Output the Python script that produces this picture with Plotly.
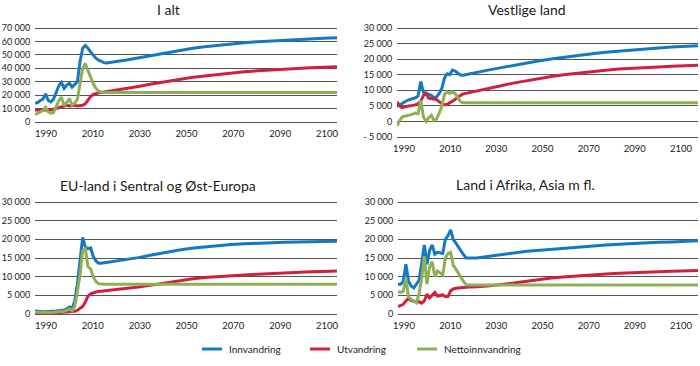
import plotly.graph_objects as go

# ---------------- data ----------------
years = list(range(1986, 2017)) + list(range(2020, 2101, 5))

# I alt
alt_inn = [14000, 14500, 16000, 17000, 21000, 16000, 15000, 17000, 22000, 27000,
           29500, 25000, 27500, 29000, 26000, 28000, 30000, 45000, 55000, 57000,
           55000, 52000, 49500, 47500, 46000, 45000, 44200, 44000, 44200, 44500,
           44800,
           46000, 47800, 49800, 51700, 53300, 54800, 56100, 57200, 58200, 59000,
           59800, 60400, 61000, 61500, 62000, 62400, 62800]
alt_ut = [9000, 8800, 8700, 9000, 9200, 9000, 9000, 9500, 10000, 10500,
          11500, 12000, 12500, 12000, 12500, 12500, 12000, 12000, 12500, 13500,
          16500, 19000, 20500, 21200, 21700, 22000, 22300, 22600, 22800, 23000,
          23200,
          24500, 26500, 28300, 30000, 31600, 33100, 34300, 35500, 36500, 37400,
          38100, 38800, 39400, 39900, 40400, 40800, 41200]
alt_netto = [5500, 6500, 8000, 8500, 11000, 7500, 6500, 7000, 11500, 16000,
             18500, 12000, 14500, 17500, 12500, 14000, 17000, 28000, 40000, 43500,
             38500, 33000, 28500, 25000, 23000, 22200, 22000, 22000, 22000, 22000,
             22000,
             22000, 22000, 22000, 22000, 22000, 22000, 22000, 22000, 22000, 22000,
             22000, 22000, 22000, 22000, 22000, 22000, 22000]

# Vestlige land
vest_inn = [4800, 5300, 5900, 6300, 6800, 7100, 7400, 7600, 8200, 12800,
            9300, 9000, 8700, 8400, 7600, 7900, 9000, 10700, 14000, 15300,
            15000, 16500, 16200, 15500, 14900, 14800, 15000, 15200, 15300, 15500,
            15700,
            16400, 17200, 18000, 18800, 19500, 20100, 20700, 21200, 21700, 22200,
            22600, 23000, 23300, 23600, 23900, 24100, 24300]
vest_ut = [6300, 5000, 4400, 4700, 4900, 5000, 5100, 5300, 5700, 6500,
           8300, 9000, 7500, 7400, 7300, 7000, 6300, 5800, 5300, 5500,
           6000, 6500, 7000, 7800, 8400, 8800, 9000, 9200, 9400, 9600,
           9800,
           10500, 11400, 12300, 13100, 13800, 14500, 15100, 15600, 16000, 16400,
           16800, 17100, 17300, 17500, 17700, 17850, 18000]
vest_netto = [-1500, 300, 1500, 1600, 1900, 2100, 2300, 2700, 2500, 6800,
              1500, 0, 1200, 2000, 300, 800, 2700, 5000, 8700, 9500,
              9000, 9500, 9000, 7500, 6400, 6000, 6000, 6000, 6000, 6000,
              6000,
              6000, 6000, 6000, 6000, 6000, 6000, 6000, 6000, 6000, 6000,
              6000, 6000, 6000, 6000, 6000, 6000, 6000]

# EU-land i Sentral og Øst-Europa
eu_inn = [800, 700, 650, 600, 600, 600, 650, 700, 800, 900,
          1000, 1100, 1400, 1900, 1500, 3500, 8000, 15000, 20500, 18000,
          17500, 17700, 15400, 14200, 13600, 13600, 13700, 13800, 13900, 14000,
          14100,
          14500, 15100, 15800, 16500, 17100, 17600, 18000, 18300, 18600, 18800,
          19000, 19100, 19200, 19300, 19400, 19450, 19500]
eu_ut = [300, 250, 200, 200, 200, 200, 200, 250, 250, 300,
         300, 350, 400, 450, 550, 700, 1000, 1400, 2000, 3200,
         4800, 5400, 5700, 5900, 6000, 6100, 6200, 6250, 6300, 6400,
         6450,
         6800, 7200, 7800, 8400, 8900, 9400, 9800, 9950, 10200, 10450,
         10650, 10850, 11000, 11150, 11300, 11400, 11500]
eu_netto = [500, 450, 400, 400, 400, 400, 400, 450, 500, 550,
            650, 750, 1000, 1400, 900, 2000, 6000, 10500, 17000, 17500,
            12700, 12000, 10000, 8700, 8100, 8000, 8000, 8000, 8000, 8000,
            8000,
            8000, 8000, 8000, 8000, 8000, 8000, 8000, 8000, 8000, 8000,
            8000, 8000, 8000, 8000, 8000, 8000, 8000]

# Land i Afrika, Asia m fl.
afr_inn = [8000, 8000, 8700, 13300, 8800, 7500, 7000, 8000, 9000, 13500,
           18500, 13300, 17000, 18500, 16000, 16500, 16300, 16200, 20000, 21000,
           22500, 20000, 19000, 17800, 16800, 15800, 15000, 15000, 15000, 15000,
           15000,
           15400, 15900, 16400, 16800, 17100, 17400, 17700, 18000, 18200, 18500,
           18700, 18900, 19000, 19200, 19300, 19500, 19600]
afr_ut = [2000, 2200, 2600, 3500, 4200, 3600, 3300, 3200, 3300, 2900,
          3500, 5300, 4300, 5000, 5800, 4800, 5000, 5100, 4700, 4700,
          6200, 6700, 6900, 7000, 7100, 7100, 7200, 7200, 7200, 7300,
          7300,
          7500, 7800, 8300, 8800, 9300, 9700, 10000, 10300, 10500, 10700,
          10900, 11100, 11200, 11350, 11450, 11550, 11650]
afr_netto = [6000, 5800, 6100, 9500, 4600, 3900, 3500, 3000, 5500, 9500,
             15500, 8000, 12500, 14000, 10000, 11500, 11000, 10500, 15000, 16200,
             16500, 13000, 12000, 10800, 9600, 8600, 7800, 7800, 7800, 7800,
             7800,
             7800, 7800, 7800, 7800, 7800, 7800, 7800, 7800, 7800, 7800,
             7800, 7800, 7800, 7800, 7800, 7800, 7800]

panel_titles = ["I alt", "Vestlige land", "EU-land i Sentral og Øst-Europa",
                "Land i Afrika, Asia m fl."]
series_names = ["Innvandring", "Utvandring", "Nettoinnvandring"]
x_tick_labels = ["1990", "2010", "2030", "2050", "2070", "2090", "2100"]
y_ticks_alt = [0, 10000, 20000, 30000, 40000, 50000, 60000, 70000]
y_ticks_vest = [-5000, 0, 5000, 10000, 15000, 20000, 25000, 30000]
y_ticks_other = [0, 5000, 10000, 15000, 20000, 25000, 30000]

# ---------------- styling / layout ----------------
W, H = 700, 366
COLORS = ["#1479c4", "#d0203e", "#8fb052"]
GRID = "#555555"
TXT = "#1a1a1a"
FONT = "Lato"


def fmt(v):
    s = f"{abs(v):,}".replace(",", " ")
    return ("- " + s) if v < 0 else s


# pixel boxes: (left, right, top_px_of_max, bottom_px_of_min), label centres first/last
panels = [
    dict(data=[alt_inn, alt_ut, alt_netto], yt=y_ticks_alt, box=(35, 337, 28, 122),
         lab=(46, 327), title_xy=(168, 9)),
    dict(data=[vest_inn, vest_ut, vest_netto], yt=y_ticks_vest, box=(397, 698, 28, 137),
         lab=(404, 681), title_xy=(527, 9)),
    dict(data=[eu_inn, eu_ut, eu_netto], yt=y_ticks_other, box=(35, 337, 202, 314),
         lab=(46, 327), title_xy=(158, 185)),
    dict(data=[afr_inn, afr_ut, afr_netto], yt=y_ticks_other, box=(398, 698, 202, 314),
         lab=(404, 681), title_xy=(525, 184)),
]

fig = go.Figure()
layout = dict(
    width=W, height=H, margin=dict(l=0, r=0, t=0, b=0, autoexpand=False),
    paper_bgcolor="white", plot_bgcolor="white",
    font=dict(family=FONT, size=10, color=TXT),
    showlegend=False,
    annotations=[], shapes=[],
)

X0, X1 = years[0], years[-1]
n_lab = len(x_tick_labels)

for i, p in enumerate(panels):
    k = "" if i == 0 else str(i + 1)
    left, right, top, bot = p["box"]
    ymin, ymax = p["yt"][0], p["yt"][-1]
    pad_px = 2
    per_px = (ymax - ymin) / (bot - top)
    pad_v = pad_px * per_px
    ydom = [1 - (bot + pad_px) / H, 1 - (top - pad_px) / H]
    xdom = [left / W, right / W]
    # tick labels spread evenly along the axis, as in the original figure
    span = X1 - X0
    la, lb = p["lab"]
    first = X0 + (la - left) / (right - left) * span
    last = X0 + (lb - left) / (right - left) * span
    tv = [first + j * (last - first) / (n_lab - 1) for j in range(n_lab)]

    layout["xaxis" + k] = dict(
        domain=xdom, anchor="y" + k, range=[X0, X1], showgrid=False,
        zeroline=False, showline=False, tickvals=tv, ticktext=x_tick_labels,
        ticks="outside", ticklen=1, tickcolor="rgba(0,0,0,0)",
        tickfont=dict(size=9.5, color=TXT), fixedrange=True)
    layout["yaxis" + k] = dict(
        domain=ydom, anchor="x" + k, range=[ymin - pad_v, ymax + pad_v],
        tickvals=p["yt"], ticktext=[fmt(v) for v in p["yt"]],
        showgrid=True, gridcolor=GRID, gridwidth=1, zeroline=False,
        showline=False, ticks="outside", ticklen=2, tickcolor="rgba(0,0,0,0)",
        tickfont=dict(size=9, color=TXT), fixedrange=True)

    for s, (vals, name, col) in enumerate(zip(p["data"], series_names, COLORS)):
        fig.add_trace(go.Scatter(
            x=years, y=vals, mode="lines", name=name,
            line=dict(color=col, width=3),
            xaxis="x" + k, yaxis="y" + k, showlegend=False, hoverinfo="skip"))

    tx, ty = p["title_xy"]
    layout["annotations"].append(dict(
        text=panel_titles[i], x=tx / W, y=1 - ty / H, xref="paper", yref="paper",
        xanchor="center", yanchor="middle", showarrow=False,
        font=dict(size=14, color=TXT, family=FONT)))

# legend drawn as line samples + text
LEG_Y = 349
leg_x = [202, 310, 417]
for name, col, lx in zip(series_names, COLORS, leg_x):
    layout["shapes"].append(dict(
        type="line", xref="paper", yref="paper",
        x0=lx / W, x1=(lx + 20) / W, y0=1 - LEG_Y / H, y1=1 - LEG_Y / H,
        line=dict(color=col, width=3)))
    layout["annotations"].append(dict(
        text=name, x=(lx + 25) / W, y=1 - LEG_Y / H, xref="paper", yref="paper",
        xanchor="left", yanchor="middle", showarrow=False,
        font=dict(size=10, color=TXT, family=FONT)))

fig.update_layout(**layout)
fig.write_html("out.html", config=dict(displayModeBar=False, staticPlot=True),
               post_script="document.body.style.margin='0';document.body.style.padding='0';")
